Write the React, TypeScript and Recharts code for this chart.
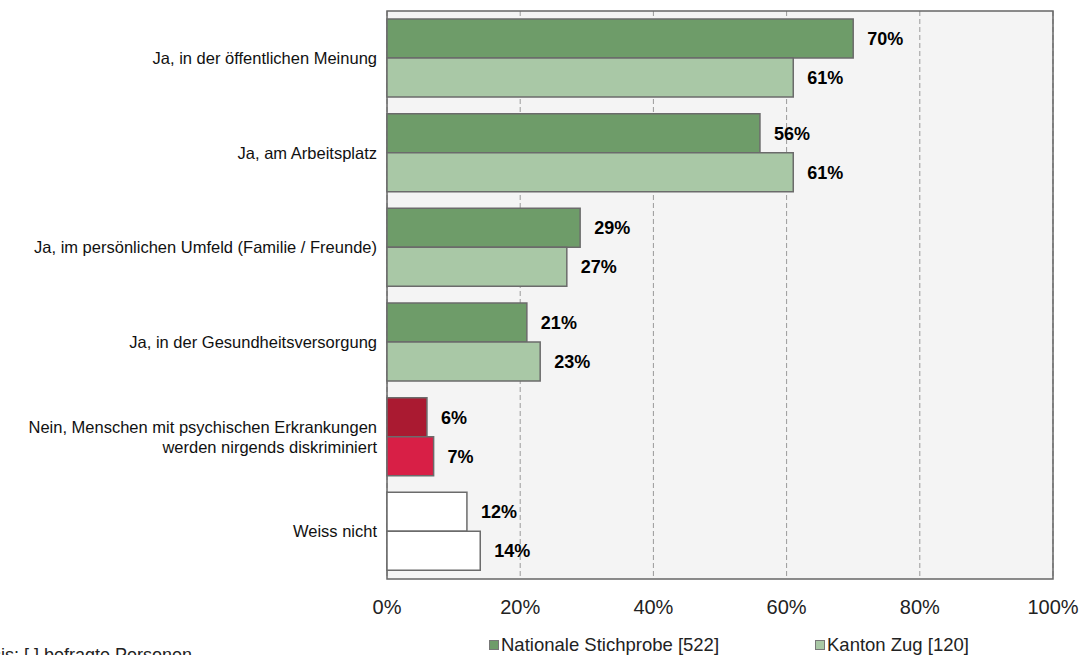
import React from "react"
import { BarChart, Bar, XAxis, YAxis, CartesianGrid, Cell, LabelList, ReferenceArea } from "recharts"

const categories = [
  "Ja, in der öffentlichen Meinung",
  "Ja, am Arbeitsplatz",
  "Ja, im persönlichen Umfeld (Familie / Freunde)",
  "Ja, in der Gesundheitsversorgung",
  "Nein, Menschen mit psychischen Erkrankungen\nwerden nirgends diskriminiert",
  "Weiss nicht",
]
const national = [70, 56, 29, 21, 6, 12]
const zug = [61, 61, 27, 23, 7, 14]
const xTicks = [0, 20, 40, 60, 80, 100]
const legendLabels = ["Nationale Stichprobe [522]", "Kanton Zug [120]"]

const nationalFill = ["#6e9c69", "#6e9c69", "#6e9c69", "#6e9c69", "#aa1a31", "#ffffff"]
const zugFill = ["#a9c8a6", "#a9c8a6", "#a9c8a6", "#a9c8a6", "#d81f46", "#ffffff"]

const data = categories.map((name, i) => ({ name, national: national[i], zug: zug[i] }))

const FONT = "'Liberation Sans', Arial, sans-serif"

function CategoryTick(props: any) {
  const { x, y, payload } = props
  const lines = String(payload.value).split("\n")
  const lh = 20
  const start = y - ((lines.length - 1) * lh) / 2
  return (
    <text x={x} y={start} textAnchor="end" fontFamily={FONT} fontSize={16.5} fill="#111">
      {lines.map((l, i) => (
        <tspan key={i} x={x} y={start + i * lh} dy="0.35em">
          {l}
        </tspan>
      ))}
    </text>
  )
}

const pct = (v: any) => `${v}%`

export default function App() {
  return (
    <div style={{ position: "absolute", left: 0, top: 0, width: 1090, height: 655, overflow: "hidden", background: "#fff", fontFamily: FONT }}>
      <BarChart
        width={1090}
        height={655}
        data={data}
        layout="vertical"
        margin={{ top: 11, right: 37, bottom: 36, left: 0 }}
        barCategoryGap={8}
        barGap={0}
      >
        <CartesianGrid fill="#f4f4f4" horizontal={false} stroke="#9a9a9a" strokeDasharray="5 3" />
        <XAxis
          type="number"
          domain={[0, 100]}
          ticks={xTicks}
          tickFormatter={pct}
          axisLine={false}
          tickLine={false}
          tickSize={0}
          tickMargin={21}
          height={40}
          tick={{ fontSize: 20, fontFamily: FONT, fill: "#222" }}
          interval={0}
        />
        <YAxis
          type="category"
          dataKey="name"
          width={387}
          axisLine={false}
          tickLine={false}
          tickSize={0}
          tickMargin={10}
          tick={<CategoryTick />}
          interval={0}
        />
        <ReferenceArea x1={0} x2={100} fill="none" stroke="#666" strokeWidth={1.5} ifOverflow="extendDomain" />
        <Bar dataKey="national" stroke="#6b6b6b" strokeWidth={1.5} isAnimationActive={false}>
          {data.map((d, i) => (
            <Cell key={i} fill={nationalFill[i]} />
          ))}
          <LabelList dataKey="national" position="right" offset={14} formatter={pct} fontFamily={FONT} fontSize={18} fontWeight="bold" fill="#000" />
        </Bar>
        <Bar dataKey="zug" stroke="#6b6b6b" strokeWidth={1.5} isAnimationActive={false}>
          {data.map((d, i) => (
            <Cell key={i} fill={zugFill[i]} />
          ))}
          <LabelList dataKey="zug" position="right" offset={14} formatter={pct} fontFamily={FONT} fontSize={18} fontWeight="bold" fill="#000" />
        </Bar>
      </BarChart>

      {legendLabels.map((label, i) => (
        <div
          key={label}
          style={{ position: "absolute", left: i === 0 ? 489 : 815, top: 636, display: "flex", alignItems: "center", fontSize: 18.5, color: "#222", lineHeight: "18px", whiteSpace: "nowrap" }}
        >
          <span style={{ display: "inline-block", width: 8, height: 8, background: i === 0 ? nationalFill[0] : zugFill[0], border: "1px solid #777", marginRight: 2 }} />
          {label}
        </div>
      ))}
      <div style={{ position: "absolute", left: -30, top: 646, fontSize: 18, color: "#222", whiteSpace: "nowrap", lineHeight: "18px" }}>
        Basis: [ ] befragte Personen
      </div>
    </div>
  )
}
